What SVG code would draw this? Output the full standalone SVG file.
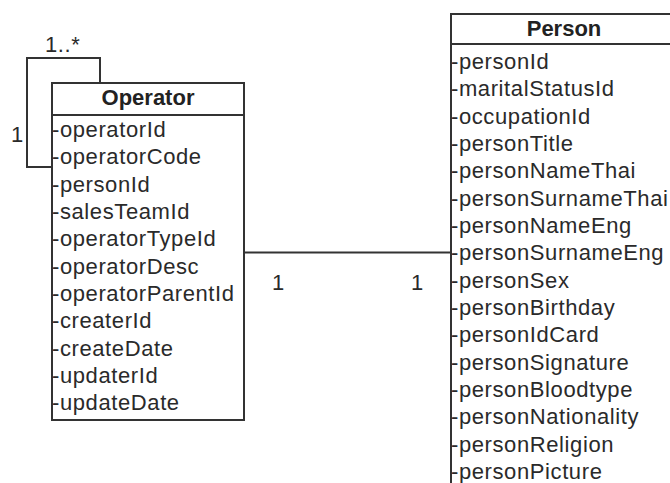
<svg xmlns="http://www.w3.org/2000/svg" width="670" height="483" viewBox="0 0 670 483">
<style>
.box{fill:#fff;stroke:#333;stroke-width:2}
.ln{fill:none;stroke:#333;stroke-width:2}
.t{font-family:"Liberation Sans",Arial,sans-serif;font-size:22px;letter-spacing:0.6px;fill:#2a2a2a}
.h{font-family:"Liberation Sans",Arial,sans-serif;font-size:22px;font-weight:bold;fill:#222;text-anchor:middle}
</style>
<rect width="670" height="483" fill="#fff"/>
<g id="connectors">
<polyline class="ln" points="100,83 100,58 27,58 27,167 52,167"/>
<line class="ln" x1="244" y1="252.5" x2="451" y2="252.5"/>
<text class="t" x="45" y="52">1..*</text>
<text class="t" x="11" y="142">1</text>
<text class="t" x="272" y="290">1</text>
<text class="t" x="411" y="290">1</text>
</g>
<g id="operator">
<rect class="box" x="52" y="83" width="192" height="337"/>
<line class="ln" x1="52" y1="115" x2="244" y2="115"/>
<text class="h" x="148" y="105">Operator</text>
<text class="t" x="52" y="137">-operatorId</text>
<text class="t" x="52" y="164.3">-operatorCode</text>
<text class="t" x="52" y="191.6">-personId</text>
<text class="t" x="52" y="219">-salesTeamId</text>
<text class="t" x="52" y="246.3">-operatorTypeId</text>
<text class="t" x="52" y="273.6">-operatorDesc</text>
<text class="t" x="52" y="301">-operatorParentId</text>
<text class="t" x="52" y="328.3">-createrId</text>
<text class="t" x="52" y="355.6">-createDate</text>
<text class="t" x="52" y="383">-updaterId</text>
<text class="t" x="52" y="410.3">-updateDate</text>
</g>
<g id="person">
<rect class="box" x="451" y="14" width="260" height="500"/>
<line class="ln" x1="451" y1="44" x2="711" y2="44"/>
<text class="h" x="564" y="36">Person</text>
<text class="t" x="451" y="69">-personId</text>
<text class="t" x="451" y="96.3">-maritalStatusId</text>
<text class="t" x="451" y="123.7">-occupationId</text>
<text class="t" x="451" y="151">-personTitle</text>
<text class="t" x="451" y="178.3">-personNameThai</text>
<text class="t" x="451" y="205.7">-personSurnameThai</text>
<text class="t" x="451" y="233">-personNameEng</text>
<text class="t" x="451" y="260.3">-personSurnameEng</text>
<text class="t" x="451" y="287.7">-personSex</text>
<text class="t" x="451" y="315">-personBirthday</text>
<text class="t" x="451" y="342.3">-personIdCard</text>
<text class="t" x="451" y="369.7">-personSignature</text>
<text class="t" x="451" y="397">-personBloodtype</text>
<text class="t" x="451" y="424.3">-personNationality</text>
<text class="t" x="451" y="451.7">-personReligion</text>
<text class="t" x="451" y="479">-personPicture</text>
</g>
</svg>
